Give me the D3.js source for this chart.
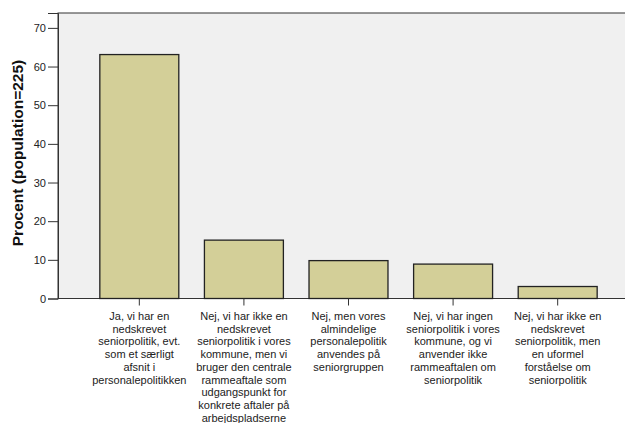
<!DOCTYPE html>
<html>
<head>
<meta charset="utf-8">
<script src="https://cdn.jsdelivr.net/npm/d3@7"></script>
<style>
  html, body { margin: 0; padding: 0; background: #fff; overflow: hidden; }
  svg { display: block; font-family: Arial, "Liberation Sans", sans-serif; }
</style>
</head>
<body>
<svg id="chart" width="625" height="423"></svg>
<script>
// kategorier (linjeskift som i originalen)
const categories = [
  ['Ja, vi har en', 'nedskrevet', 'seniorpolitik, evt.', 'som et særligt', 'afsnit i', 'personalepolitikken'],
  ['Nej, vi har ikke en', 'nedskrevet', 'seniorpolitik i vores', 'kommune, men vi', 'bruger den centrale', 'rammeaftale som', 'udgangspunkt for', 'konkrete aftaler på', 'arbejdspladserne'],
  ['Nej, men vores', 'almindelige', 'personalepolitik', 'anvendes på', 'seniorgruppen'],
  ['Nej, vi har ingen', 'seniorpolitik i vores', 'kommune, og vi', 'anvender ikke', 'rammeaftalen om', 'seniorpolitik'],
  ['Nej, vi har ikke en', 'nedskrevet', 'seniorpolitik, men', 'en uformel', 'forståelse om', 'seniorpolitik']
];
const percent = [63.1, 15.1, 9.8, 8.9, 3.1];
const yTicks = [0, 10, 20, 30, 40, 50, 60, 70];
const yLabel = 'Procent (population=225)';

(function() {
  const svg = d3.select('#chart');
  const pLeft = 58, pTop = 13, pBottom = 298.5, pRight = 639;

  const x = d3.scaleBand()
    .domain(d3.range(categories.length))
    .range([pLeft, pRight])
    .paddingInner(0.245)
    .paddingOuter(0.4);

  const y = d3.scaleLinear()
    .domain([0, 73.85])
    .range([pBottom, pTop]);

  // plotbaggrund
  svg.append('rect')
    .attr('x', pLeft).attr('y', pTop)
    .attr('width', pRight - pLeft).attr('height', pBottom - pTop)
    .style('fill', '#f0f0f0')
    .style('stroke', '#333')
    .style('stroke-width', 1);

  // søjler
  svg.selectAll('rect.bar')
    .data(percent)
    .enter().append('rect')
    .attr('class', 'bar')
    .attr('x', (d, i) => x(i))
    .attr('y', d => y(d))
    .attr('width', x.bandwidth())
    .attr('height', d => y(0) - y(d))
    .style('fill', '#d3cf98')
    .style('stroke', '#222')
    .style('stroke-width', 1.3);

  // y-akse
  const yAxis = svg.append('g')
    .attr('transform', `translate(${pLeft},0)`)
    .call(d3.axisLeft(y).tickValues(yTicks).tickSize(10).tickPadding(2));
  yAxis.select('.domain').style('stroke', '#333');
  yAxis.selectAll('.tick line').style('stroke', '#333');
  yAxis.selectAll('.tick text')
    .style('font-size', '11px')
    .style('fill', '#222');

  // x-akse
  const xAxis = svg.append('g')
    .attr('transform', `translate(0,${pBottom})`)
    .call(d3.axisBottom(x).tickSize(7).tickFormat(''));
  xAxis.select('.domain').remove();
  xAxis.selectAll('.tick line').style('stroke', '#333');

  // kategoritekster
  svg.selectAll('text.cat')
    .data(categories)
    .enter().append('text')
    .attr('class', 'cat')
    .attr('text-anchor', 'middle')
    .style('font-size', '11px')
    .style('fill', '#222')
    .each(function(lines, i) {
      const t = d3.select(this);
      lines.forEach((line, j) => {
        t.append('tspan')
          .attr('x', x(i) + x.bandwidth() / 2)
          .attr('y', 320 + j * 12.7)
          .text(line);
      });
    });

  // y-titel
  svg.append('text')
    .attr('transform', `translate(23,153) rotate(-90)`)
    .attr('text-anchor', 'middle')
    .style('font-size', '15.5px')
    .style('font-weight', 'bold')
    .style('fill', '#111')
    .text(yLabel);
})();
</script>
</body>
</html>
